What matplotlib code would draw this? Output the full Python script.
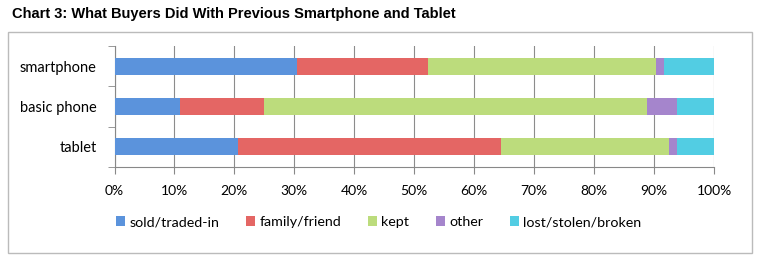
import matplotlib.pyplot as plt
from matplotlib.patches import Rectangle
import numpy as np

categories = ['smartphone', 'basic phone', 'tablet']
series = ['sold/traded-in', 'family/friend', 'kept', 'other', 'lost/stolen/broken']
sold = [30.4, 10.9, 20.6]
family = [21.9, 14.1, 43.9]
kept = [38.0, 63.8, 28.0]
other = [1.4, 5.0, 1.4]
lost = [8.3, 6.2, 6.1]
colors = ['#5b93dc', '#e46664', '#bcdc7c', '#a585cc', '#52cde3']
ticks = np.arange(0, 101, 10)

plt.rcParams['font.family'] = ['Lato', 'DejaVu Sans']

fig = plt.figure(figsize=(7.62, 2.59), dpi=100)
fig.patches.append(Rectangle((8/762, 6/259), 744/762, 221/259, transform=fig.transFigure,
                             fill=False, edgecolor='#bbbbbb', lw=1))
fig.text(12/762, 1 - 14/259, 'Chart 3: What Buyers Did With Previous Smartphone and Tablet',
         fontsize=10.5, fontweight='bold', va='center', ha='left',
         family=['Liberation Sans Narrow', 'Liberation Sans', 'DejaVu Sans'])

ax = fig.add_axes([114.5/762, 92/259, 599.5/762, 121/259])
y = np.arange(len(categories))
left = np.zeros(len(categories))
for name, vals, c in zip(series, [sold, family, kept, other, lost], colors):
    ax.barh(y, vals, left=left, height=0.42, color=c, label=name, zorder=3)
    left += np.array(vals)

ax.set_ylim(2.5, -0.5)
ax.set_xlim(0, 100)
ax.set_yticks(y)
ax.set_yticklabels(categories, fontsize=10.5)
ax.set_yticks([-0.5, 0.5, 1.5, 2.5], minor=True)
ax.tick_params(axis='y', which='major', length=0, pad=13)
ax.tick_params(axis='y', which='minor', length=5, color='#888888', direction='out')
ax.set_xticks(ticks)
ax.set_xticklabels([f'{t}%' for t in ticks], fontsize=10)
ax.tick_params(axis='x', length=5, color='#888888', pad=8)
ax.grid(axis='x', color='#8c8c8c', lw=0.8, zorder=0)
for s in ['top', 'right']:
    ax.spines[s].set_visible(False)
for s in ['left', 'bottom']:
    ax.spines[s].set_color('#888888')

ax.legend(loc='center', bbox_to_anchor=(0.441, -0.455), ncol=5, frameon=False, fontsize=10.3,
          handlelength=0.6, handleheight=0.6, handletextpad=0.3, columnspacing=1.9)

fig.savefig('out.png', dpi=100)
